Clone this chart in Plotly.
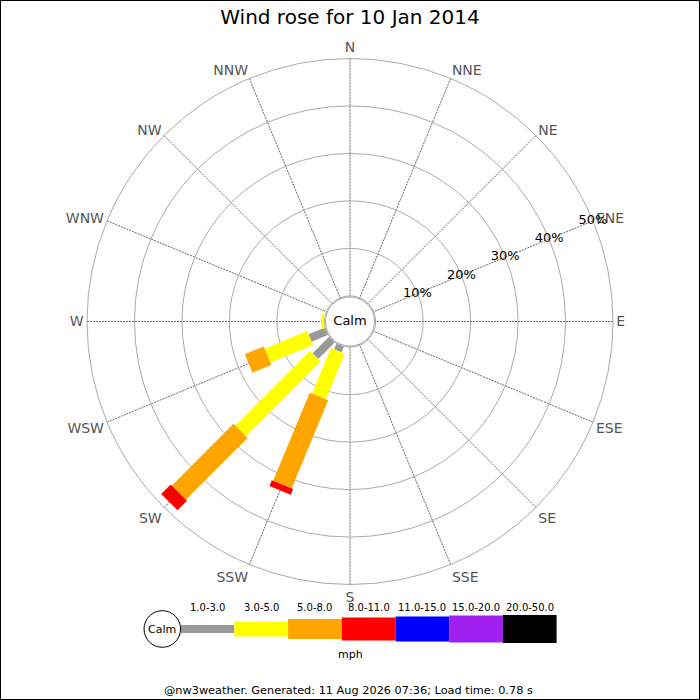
import math
import plotly.graph_objects as go

# ---------------- data ----------------
title_text = "Wind rose for 10 Jan 2014"
directions = ["N", "NNE", "NE", "ENE", "E", "ESE", "SE", "SSE",
              "S", "SSW", "SW", "WSW", "W", "WNW", "NW", "NNW"]
speed_bins = ["1.0-3.0", "3.0-5.0", "5.0-8.0", "8.0-11.0",
              "11.0-15.0", "15.0-20.0", "20.0-50.0"]
speed_unit = "mph"
bin_colors = ["#999999", "#ffff00", "#ffa500", "#ff0000",
              "#0000ff", "#a020f0", "#000000"]

# frequency (%) per direction, one list per speed bin
rose_dirs = ["SSW", "SW", "WSW", "W"]
pct_1_3 = [1.3, 4.9, 3.7, 0.0]
pct_3_5 = [10.4, 22.3, 9.7, 0.6]
pct_5_8 = [20.1, 18.4, 4.3, 0.0]
pct_8_11 = [1.3, 2.8, 0.0, 0.0]
pct_11_15 = [0.0, 0.0, 0.0, 0.0]
pct_15_20 = [0.0, 0.0, 0.0, 0.0]
pct_20_50 = [0.0, 0.0, 0.0, 0.0]
bin_values = [pct_1_3, pct_3_5, pct_5_8, pct_8_11, pct_11_15, pct_15_20, pct_20_50]

ring_ticks = [10, 20, 30, 40, 50]
ring_labels = ["10%", "20%", "30%", "40%", "50%"]
footer_text = "@nw3weather. Generated: 11 Aug 2026 07:36; Load time: 0.78 s"

# ---------------- styling / geometry ----------------
W = H = 700
R_MIN = -5.4          # radial value at the centre (leaves room for calm circle)
R_MAX = 50
OUTER_PX = 263
PX_PER_UNIT = OUTER_PX / (R_MAX - R_MIN)
bar_width_px = [8, 15, 20, 23, 25, 27, 28]
label_angle = 67.5    # bearing of the percentage labels (ENE)

bearing = {d: i * 22.5 for i, d in enumerate(directions)}

fig = go.Figure()


def seg_poly(brg, c0, c1, half):
    pts = [(c0 - R_MIN, -half), (c1 - R_MIN, -half), (c1 - R_MIN, half),
           (c0 - R_MIN, half), (c0 - R_MIN, -half)]
    rr = [math.hypot(d, h) + R_MIN for d, h in pts]
    tt = [brg + math.degrees(math.atan2(h, d)) for d, h in pts]
    return rr, tt


# calm circle in the centre
fig.add_trace(go.Scatterpolar(
    r=[R_MIN], theta=[0], mode="markers+text", text=["Calm"],
    textposition="middle center", textfont=dict(size=13, color="black"),
    marker=dict(size=49, color="white", line=dict(color="#aaaaaa", width=1)),
    cliponaxis=False, hoverinfo="skip", showlegend=False))

# stacked rectangular bars
for j, d in enumerate(rose_dirs):
    cum = 0.0
    for b, vals in enumerate(bin_values):
        v = vals[j]
        if v <= 0:
            continue
        half = bar_width_px[b] / 2 / PX_PER_UNIT
        rr, tt = seg_poly(bearing[d], cum, cum + v, half)
        fig.add_trace(go.Scatterpolar(
            r=rr, theta=tt, mode="lines", fill="toself",
            fillcolor=bin_colors[b], line=dict(width=0, color=bin_colors[b]),
            hoverinfo="text", text=f"{d} {speed_bins[b]}: {v}%",
            showlegend=False, cliponaxis=False))
        cum += v

# percentage ring labels
fig.add_trace(go.Scatterpolar(
    r=ring_ticks, theta=[label_angle] * len(ring_ticks), mode="text",
    text=ring_labels, textfont=dict(size=13, color="black"),
    textposition="middle center", cliponaxis=False,
    hoverinfo="skip", showlegend=False))

cx, cy = 350, 321.5
fig.update_layout(
    width=W, height=H,
    margin=dict(l=0, r=0, t=0, b=0),
    paper_bgcolor="white",
    font=dict(family="DejaVu Sans", color="black"),
    title=dict(text=title_text, x=0.5, xanchor="center", y=1 - 17 / H,
               yanchor="middle", yref="container",
               font=dict(size=20, color="black")),
    polar=dict(
        domain=dict(x=[(cx - OUTER_PX) / W, (cx + OUTER_PX) / W],
                    y=[1 - (cy + OUTER_PX) / H, 1 - (cy - OUTER_PX) / H]),
        bgcolor="white",
        radialaxis=dict(range=[R_MIN, R_MAX], tickvals=[0] + ring_ticks,
                        showticklabels=False, ticks="", showline=False,
                        gridcolor="#aaaaaa", gridwidth=1, layer="below traces"),
        angularaxis=dict(rotation=90, direction="clockwise", thetaunit="degrees",
                         tickmode="array",
                         tickvals=[bearing[d] for d in directions],
                         ticktext=directions, ticks="",
                         tickfont=dict(size=14, color="#555555"),
                         showline=True, linecolor="#aaaaaa", linewidth=1,
                         gridcolor="#666666", griddash="2px,1px", gridwidth=1,
                         layer="below traces"),
    ),
)

# ---------------- legend (speed classes) ----------------
leg_x0, leg_w, leg_cy = 180.7, 53.7, 629
shapes = []
annotations = []
for i, lab in enumerate(speed_bins):
    x0 = leg_x0 + i * leg_w
    x1 = x0 + leg_w
    h = bar_width_px[i]
    shapes.append(dict(type="rect", xref="paper", yref="paper",
                       x0=x0 / W, x1=x1 / W,
                       y0=1 - (leg_cy + h / 2) / H, y1=1 - (leg_cy - h / 2) / H,
                       fillcolor=bin_colors[i], line=dict(width=0)))
    annotations.append(dict(text=lab, xref="paper", yref="paper",
                            x=(x0 + x1) / 2 / W, y=1 - 607 / H,
                            xanchor="center", yanchor="middle", showarrow=False,
                            font=dict(size=10, color="black")))
# legend calm circle
lc_x, lc_r = 162.3, 18.3
shapes.append(dict(type="circle", xref="paper", yref="paper",
                   x0=(lc_x - lc_r) / W, x1=(lc_x + lc_r) / W,
                   y0=1 - (leg_cy + lc_r) / H, y1=1 - (leg_cy - lc_r) / H,
                   fillcolor="white", line=dict(color="black", width=1)))
annotations.append(dict(text="Calm", xref="paper", yref="paper",
                        x=lc_x / W, y=1 - leg_cy / H, xanchor="center",
                        yanchor="middle", showarrow=False,
                        font=dict(size=11, color="black")))
annotations.append(dict(text=speed_unit, xref="paper", yref="paper",
                        x=350.7 / W, y=1 - 654 / H, xanchor="center",
                        yanchor="middle", showarrow=False,
                        font=dict(size=11, color="black")))
annotations.append(dict(text=footer_text, xref="paper", yref="paper",
                        x=348 / W, y=1 - 690 / H, xanchor="center",
                        yanchor="middle", showarrow=False,
                        font=dict(size=11.3, color="black")))
# outer frame
shapes.append(dict(type="rect", xref="paper", yref="paper", x0=0, x1=1, y0=0, y1=1,
                   line=dict(color="black", width=2), fillcolor="rgba(0,0,0,0)"))
fig.update_layout(shapes=shapes, annotations=annotations)

fig.write_html("out.html", config={"displayModeBar": False},
               post_script="document.body.style.margin='0';document.body.style.overflow='hidden';")
